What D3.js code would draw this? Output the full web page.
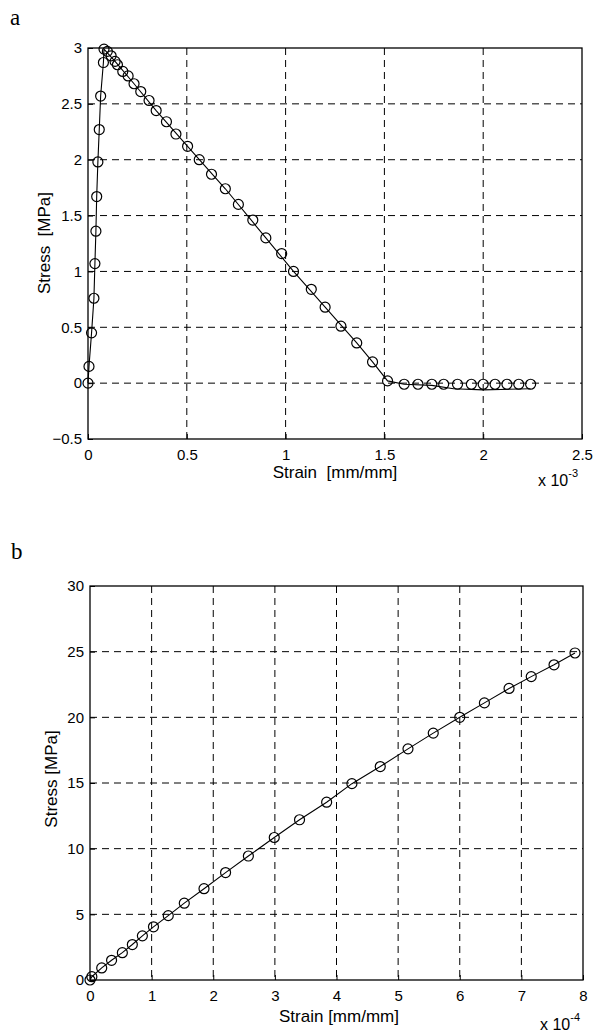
<!DOCTYPE html>
<html>
<head>
<meta charset="utf-8">
<script src="https://cdn.jsdelivr.net/npm/d3@7"></script>
<style>
    body { margin: 0; background: #fff; }
    svg text { font-family: "Liberation Sans", Arial, sans-serif; fill: #000; }
    .grid line { stroke: #000; stroke-width: 1; stroke-dasharray: 7,5; }
</style>
</head>
<body>
<div id="chart"></div>
<script>
// panel a: measured points (strain x1e-3, stress MPa)
const strainA = [0, 0.005, 0.018, 0.03, 0.035, 0.04, 0.044, 0.05, 0.057, 0.064, 0.078, 0.081,
    0.098, 0.117, 0.137, 0.149, 0.176, 0.203, 0.233, 0.267, 0.309, 0.345, 0.397, 0.445, 0.504,
    0.563, 0.625, 0.695, 0.761, 0.834, 0.9, 0.98, 1.04, 1.13, 1.20, 1.28, 1.36, 1.44, 1.516,
    1.60, 1.67, 1.74, 1.80, 1.87, 1.94, 2.0, 2.06, 2.12, 2.18, 2.24];
const stressA = [0, 0.15, 0.45, 0.76, 1.07, 1.36, 1.67, 1.98, 2.27, 2.57, 2.87, 2.99,
    2.97, 2.93, 2.88, 2.85, 2.79, 2.75, 2.68, 2.61, 2.53, 2.44, 2.34, 2.23, 2.12,
    2.0, 1.87, 1.74, 1.60, 1.46, 1.30, 1.16, 1.0, 0.84, 0.68, 0.51, 0.36, 0.19, 0.02,
    -0.01, -0.01, -0.01, -0.01, -0.01, -0.01, -0.01, -0.01, -0.01, -0.01, -0.01];
// panel a: fitted curve
const lineStrainA = [0, 0.005, 0.018, 0.03, 0.035, 0.04, 0.044, 0.05, 0.057, 0.064, 0.078, 0.081,
    0.137, 0.233, 0.345, 0.504, 0.695, 0.9, 1.04, 1.20, 1.36, 1.44, 1.516, 1.60, 1.74, 1.85, 2.0, 2.24];
const lineStressA = [0, 0.15, 0.45, 0.76, 1.07, 1.36, 1.67, 1.98, 2.27, 2.57, 2.87, 2.99,
    2.88, 2.68, 2.44, 2.12, 1.74, 1.30, 1.0, 0.68, 0.36, 0.19, 0.02, -0.01, -0.02, -0.05, -0.06, -0.05];

// panel b: points (strain x1e-4, stress MPa)
const strainB = [0, 0.03, 0.19, 0.35, 0.525, 0.687, 0.85, 1.03, 1.27, 1.53, 1.85, 2.2, 2.57,
    2.99, 3.4, 3.84, 4.25, 4.71, 5.16, 5.57, 6.0, 6.4, 6.8, 7.16, 7.53, 7.87];
const stressB = [0, 0.25, 0.92, 1.5, 2.08, 2.7, 3.36, 4.05, 4.9, 5.85, 6.95, 8.18, 9.44,
    10.85, 12.2, 13.54, 14.95, 16.25, 17.6, 18.8, 20.0, 21.1, 22.2, 23.1, 24.0, 24.9];

const ticksXA = [0, 0.5, 1, 1.5, 2, 2.5];
const ticksYA = [-0.5, 0, 0.5, 1, 1.5, 2, 2.5, 3];
const ticksXB = [0, 1, 2, 3, 4, 5, 6, 7, 8];
const ticksYB = [0, 5, 10, 15, 20, 25, 30];

const svg = d3.select("#chart").append("svg")
    .attr("width", 596)
    .attr("height", 1033);

function drawPanel(p) {
    const width = p.right - p.left;
    const height = p.bottom - p.top;
    const g = svg.append("g").attr("transform", `translate(${p.left},${p.top})`);

    const x = d3.scaleLinear().domain(p.xDomain).range([0, width]);
    const y = d3.scaleLinear().domain(p.yDomain).range([height, 0]);

    // 格線
    g.append("g").attr("class", "grid")
        .selectAll("line").data(p.xTicks.slice(1, -1)).enter().append("line")
        .attr("x1", d => x(d)).attr("x2", d => x(d))
        .attr("y1", 0).attr("y2", height);
    g.append("g").attr("class", "grid")
        .selectAll("line").data(p.yTicks.slice(1, -1)).enter().append("line")
        .attr("x1", 0).attr("x2", width)
        .attr("y1", d => y(d)).attr("y2", d => y(d));

    // 座標軸
    const xAxis = g.append("g")
        .attr("transform", `translate(0,${height})`)
        .call(d3.axisBottom(x).tickValues(p.xTicks).tickSize(-5).tickPadding(10).tickFormat(d3.format("")));
    const yAxis = g.append("g")
        .call(d3.axisLeft(y).tickValues(p.yTicks).tickSize(-5).tickPadding(6).tickFormat(d3.format("")));
    [xAxis, yAxis].forEach(a => {
        a.select(".domain").remove();
        a.selectAll("text").style("font-size", "15px");
        a.selectAll("line").attr("stroke", "#000");
    });

    // 外框
    g.append("rect")
        .attr("width", width).attr("height", height)
        .attr("fill", "none").attr("stroke", "#000").attr("stroke-width", 1.3);

    const line = d3.line().x(d => x(d[0])).y(d => y(d[1]));
    g.append("path")
        .datum(p.lineX.map((v, i) => [v, p.lineY[i]]))
        .attr("fill", "none").attr("stroke", "#000").attr("stroke-width", 1.1)
        .attr("d", line);

    g.selectAll(".dot")
        .data(p.ptX.map((v, i) => [v, p.ptY[i]]))
        .enter().append("circle")
        .attr("class", "dot")
        .attr("cx", d => x(d[0])).attr("cy", d => y(d[1]))
        .attr("r", 5)
        .attr("fill", "none").attr("stroke", "#000").attr("stroke-width", 1.2);

    // 標籤
    svg.append("text")
        .attr("x", p.xLabelPos[0]).attr("y", p.xLabelPos[1])
        .attr("text-anchor", "middle").style("font-size", "17px")
        .style("white-space", "pre")
        .text(p.xLabel);
    svg.append("text")
        .attr("transform", `translate(${p.yLabelPos[0]},${p.yLabelPos[1]}) rotate(-90)`)
        .attr("text-anchor", "middle").style("font-size", "17px")
        .style("white-space", "pre")
        .text(p.yLabel);
    const mult = svg.append("text")
        .attr("x", p.multPos[0]).attr("y", p.multPos[1])
        .style("font-size", "16px");
    mult.append("tspan").text("x 10");
    mult.append("tspan").attr("dy", -9).style("font-size", "11px").text(p.exponent);
    svg.append("text")
        .attr("x", p.letterPos[0]).attr("y", p.letterPos[1])
        .style("font-family", "'Liberation Serif', serif").style("font-size", "23px")
        .text(p.letter);
}

drawPanel({
    left: 88, right: 582, top: 48, bottom: 439,
    xDomain: [0, 2.5], yDomain: [-0.5, 3],
    xTicks: ticksXA, yTicks: ticksYA,
    ptX: strainA, ptY: stressA, lineX: lineStrainA, lineY: lineStressA,
    xLabel: "Strain  [mm/mm]", yLabel: "Stress  [MPa]",
    xLabelPos: [335, 478], yLabelPos: [50, 243],
    multPos: [538, 486], exponent: "-3",
    letter: "a", letterPos: [10, 25]
});

drawPanel({
    left: 90, right: 583, top: 586, bottom: 980,
    xDomain: [0, 8], yDomain: [0, 30],
    xTicks: ticksXB, yTicks: ticksYB,
    ptX: strainB, ptY: stressB, lineX: strainB, lineY: stressB,
    xLabel: "Strain [mm/mm]", yLabel: "Stress [MPa]",
    xLabelPos: [339, 1022], yLabelPos: [57, 779],
    multPos: [540, 1030], exponent: "-4",
    letter: "b", letterPos: [11, 559]
});
</script>
</body>
</html>
